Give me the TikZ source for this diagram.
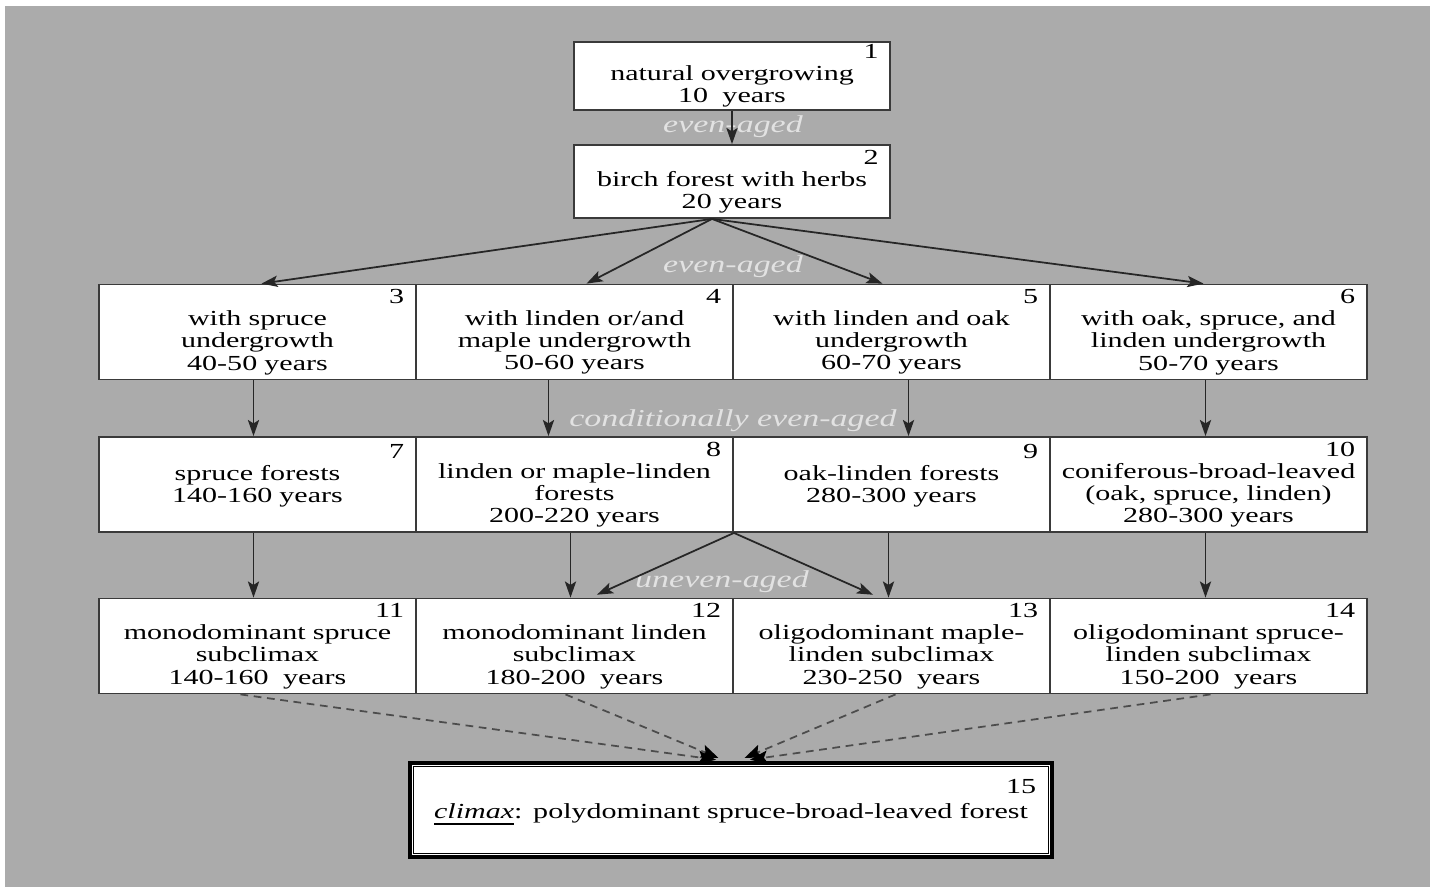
\documentclass[tikz,border=0pt]{standalone}
\usepackage{fontspec}
\setmainfont{Liberation Serif}[FakeStretch=1.4]
\usetikzlibrary{arrows.meta}
\definecolor{bggray}{HTML}{ABABAB}
\definecolor{lblgray}{HTML}{E2E2E2}
\definecolor{boxline}{HTML}{3A3A3A}
\tikzset{
	stage/.style={draw=boxline, line width=0.5pt, fill=white, inner sep=0pt, align=center,
		minimum width=3.17cm, minimum height=0.95cm, text width=2.93cm,
		font=\fontsize{6.1}{6.3}\selectfont},
	agelbl/.style={text=lblgray, font=\fontsize{6.9}{8}\selectfont\itshape, inner sep=0pt},
	arr/.style={-{Stealth[length=4.6pt,width=3.2pt,inset=1pt]}, line width=0.5pt, black!85},
	darr/.style={-{Stealth[length=5pt,width=3.8pt,inset=1pt,black]}, line width=0.5pt, dashed, dash pattern=on 2.2pt off 1.6pt, black!70}
}
\begin{document}
\begin{tikzpicture}[x=0.01cm,y=-0.01cm]
	\useasboundingbox (0,0) rectangle (1430,887);
	\fill[white] (0,0) rectangle (1430,887);
	\fill[bggray] (5,6) rectangle (1430,887);
	% age labels
	\node[agelbl] (lab1) at (733,127) {even-aged};
	\node[agelbl] (lab2) at (733,267) {even-aged};
	\node[agelbl] (lab3) at (733,421) {conditionally even-aged};
	\node[agelbl] (lab4) at (722,582) {uneven-aged};
	% top boxes
	\node[stage, minimum width=3.16cm, minimum height=0.68cm] (n1) at (732,76)
		{\hfill 1\\ natural overgrowing\\ 10~ years};
	\node[stage, minimum width=3.16cm, minimum height=0.73cm] (n2) at (732,181.5)
		{\hfill 2\\ birch forest with herbs\\ 20 years};
	% even-aged row
	\node[stage] (n3) at (257.5,332) {\hfill 3\\ with spruce\\ undergrowth\\ 40-50 years};
	\node[stage] (n4) at (574.5,332) {\hfill 4\\ with linden or/and\\ maple undergrowth\\ 50-60 years};
	\node[stage] (n5) at (891.5,332) {\hfill 5\\ with linden and oak\\ undergrowth\\ 60-70 years};
	\node[stage] (n6) at (1208.5,332) {\hfill 6\\ with oak, spruce, and\\ linden undergrowth\\ 50-70 years};
	% conditionally even-aged row
	\node[stage] (n7) at (257.5,484.5) {\hfill 7\\ spruce forests\\ 140-160 years\\ \mbox{}};
	\node[stage] (n8) at (574.5,484.5) {\hfill 8\\ linden or maple-linden\\ forests\\ 200-220 years};
	\node[stage] (n9) at (891.5,484.5) {\hfill 9\\ oak-linden forests\\ 280-300 years\\ \mbox{}};
	\node[stage] (n10) at (1208.5,484.5) {\hfill 10\\ \makebox[2.93cm][c]{coniferous-broad-leaved}\\ (oak, spruce, linden)\\ 280-300 years};
	% subclimax row
	\node[stage] (n11) at (257.5,646) {\hfill 11\\ monodominant spruce\\ subclimax\\ 140-160~ years};
	\node[stage] (n12) at (574.5,646) {\hfill 12\\ monodominant linden\\ subclimax\\ 180-200~ years};
	\node[stage] (n13) at (891.5,646) {\hfill 13\\ oligodominant maple-\\ linden subclimax\\ 230-250~ years};
	\node[stage] (n14) at (1208.5,646) {\hfill 14\\ oligodominant spruce-\\ linden subclimax\\ 150-200~ years};
	% climax
	\node[stage, draw=black, line width=1.3pt, minimum width=6.42cm, minimum height=0.94cm, text width=6.1cm] (n15) at (731,810)
		{\hfill 15\\[1pt] \underline{\textit{climax}}: polydominant spruce-broad-leaved forest\\ \mbox{}};
	\draw[black, line width=0.4pt] ([shift={(6,6)}]n15.north west) rectangle ([shift={(-6,-6)}]n15.south east);
	% arrows
	\draw[arr] (n1.south) -- (n2.north);
	\draw[arr] ([xshift=-0.2cm]n2.south) -- ([xshift=0.04cm]n3.north);
	\draw[arr] ([xshift=-0.2cm]n2.south) -- ([xshift=0.12cm]n4.north);
	\draw[arr] ([xshift=-0.2cm]n2.south) -- ([xshift=-0.09cm]n5.north);
	\draw[arr] ([xshift=-0.2cm]n2.south) -- ([xshift=-0.05cm]n6.north);
	\draw[arr] ([xshift=-0.04cm]n3.south) -- ([xshift=-0.04cm]n7.north);
	\draw[arr] ([xshift=-0.26cm]n4.south) -- ([xshift=-0.26cm]n8.north);
	\draw[arr] ([xshift=0.17cm]n5.south) -- ([xshift=0.17cm]n9.north);
	\draw[arr] ([xshift=-0.03cm]n6.south) -- ([xshift=-0.03cm]n10.north);
	\draw[arr] ([xshift=-0.04cm]n7.south) -- ([xshift=-0.04cm]n11.north);
	\draw[arr] ([xshift=-0.04cm]n8.south) -- ([xshift=-0.04cm]n12.north);
	\draw[arr] ([xshift=-0.03cm]n9.south) -- ([xshift=-0.03cm]n13.north);
	\draw[arr] ([xshift=-0.03cm]n10.south) -- ([xshift=-0.03cm]n14.north);
	\draw[arr, shorten >=2pt] (n8.south east) -- ([xshift=0.16cm]n12.north);
	\draw[arr, shorten >=2pt] (n8.south east) -- ([xshift=-0.12cm]n13.north);
	\draw[darr, shorten >=2pt] ([xshift=-0.17cm]n11.south) -- ([xshift=-0.08cm]n15.north);
	\draw[darr, shorten >=2pt] ([xshift=-0.09cm]n12.south) -- ([xshift=-0.06cm]n15.north);
	\draw[darr, shorten >=2pt] ([xshift=0.04cm]n13.south) -- ([xshift=0.07cm]n15.north);
	\draw[darr, shorten >=2pt] ([xshift=0.02cm]n14.south) -- ([xshift=0.12cm]n15.north);
\end{tikzpicture}
\end{document}
